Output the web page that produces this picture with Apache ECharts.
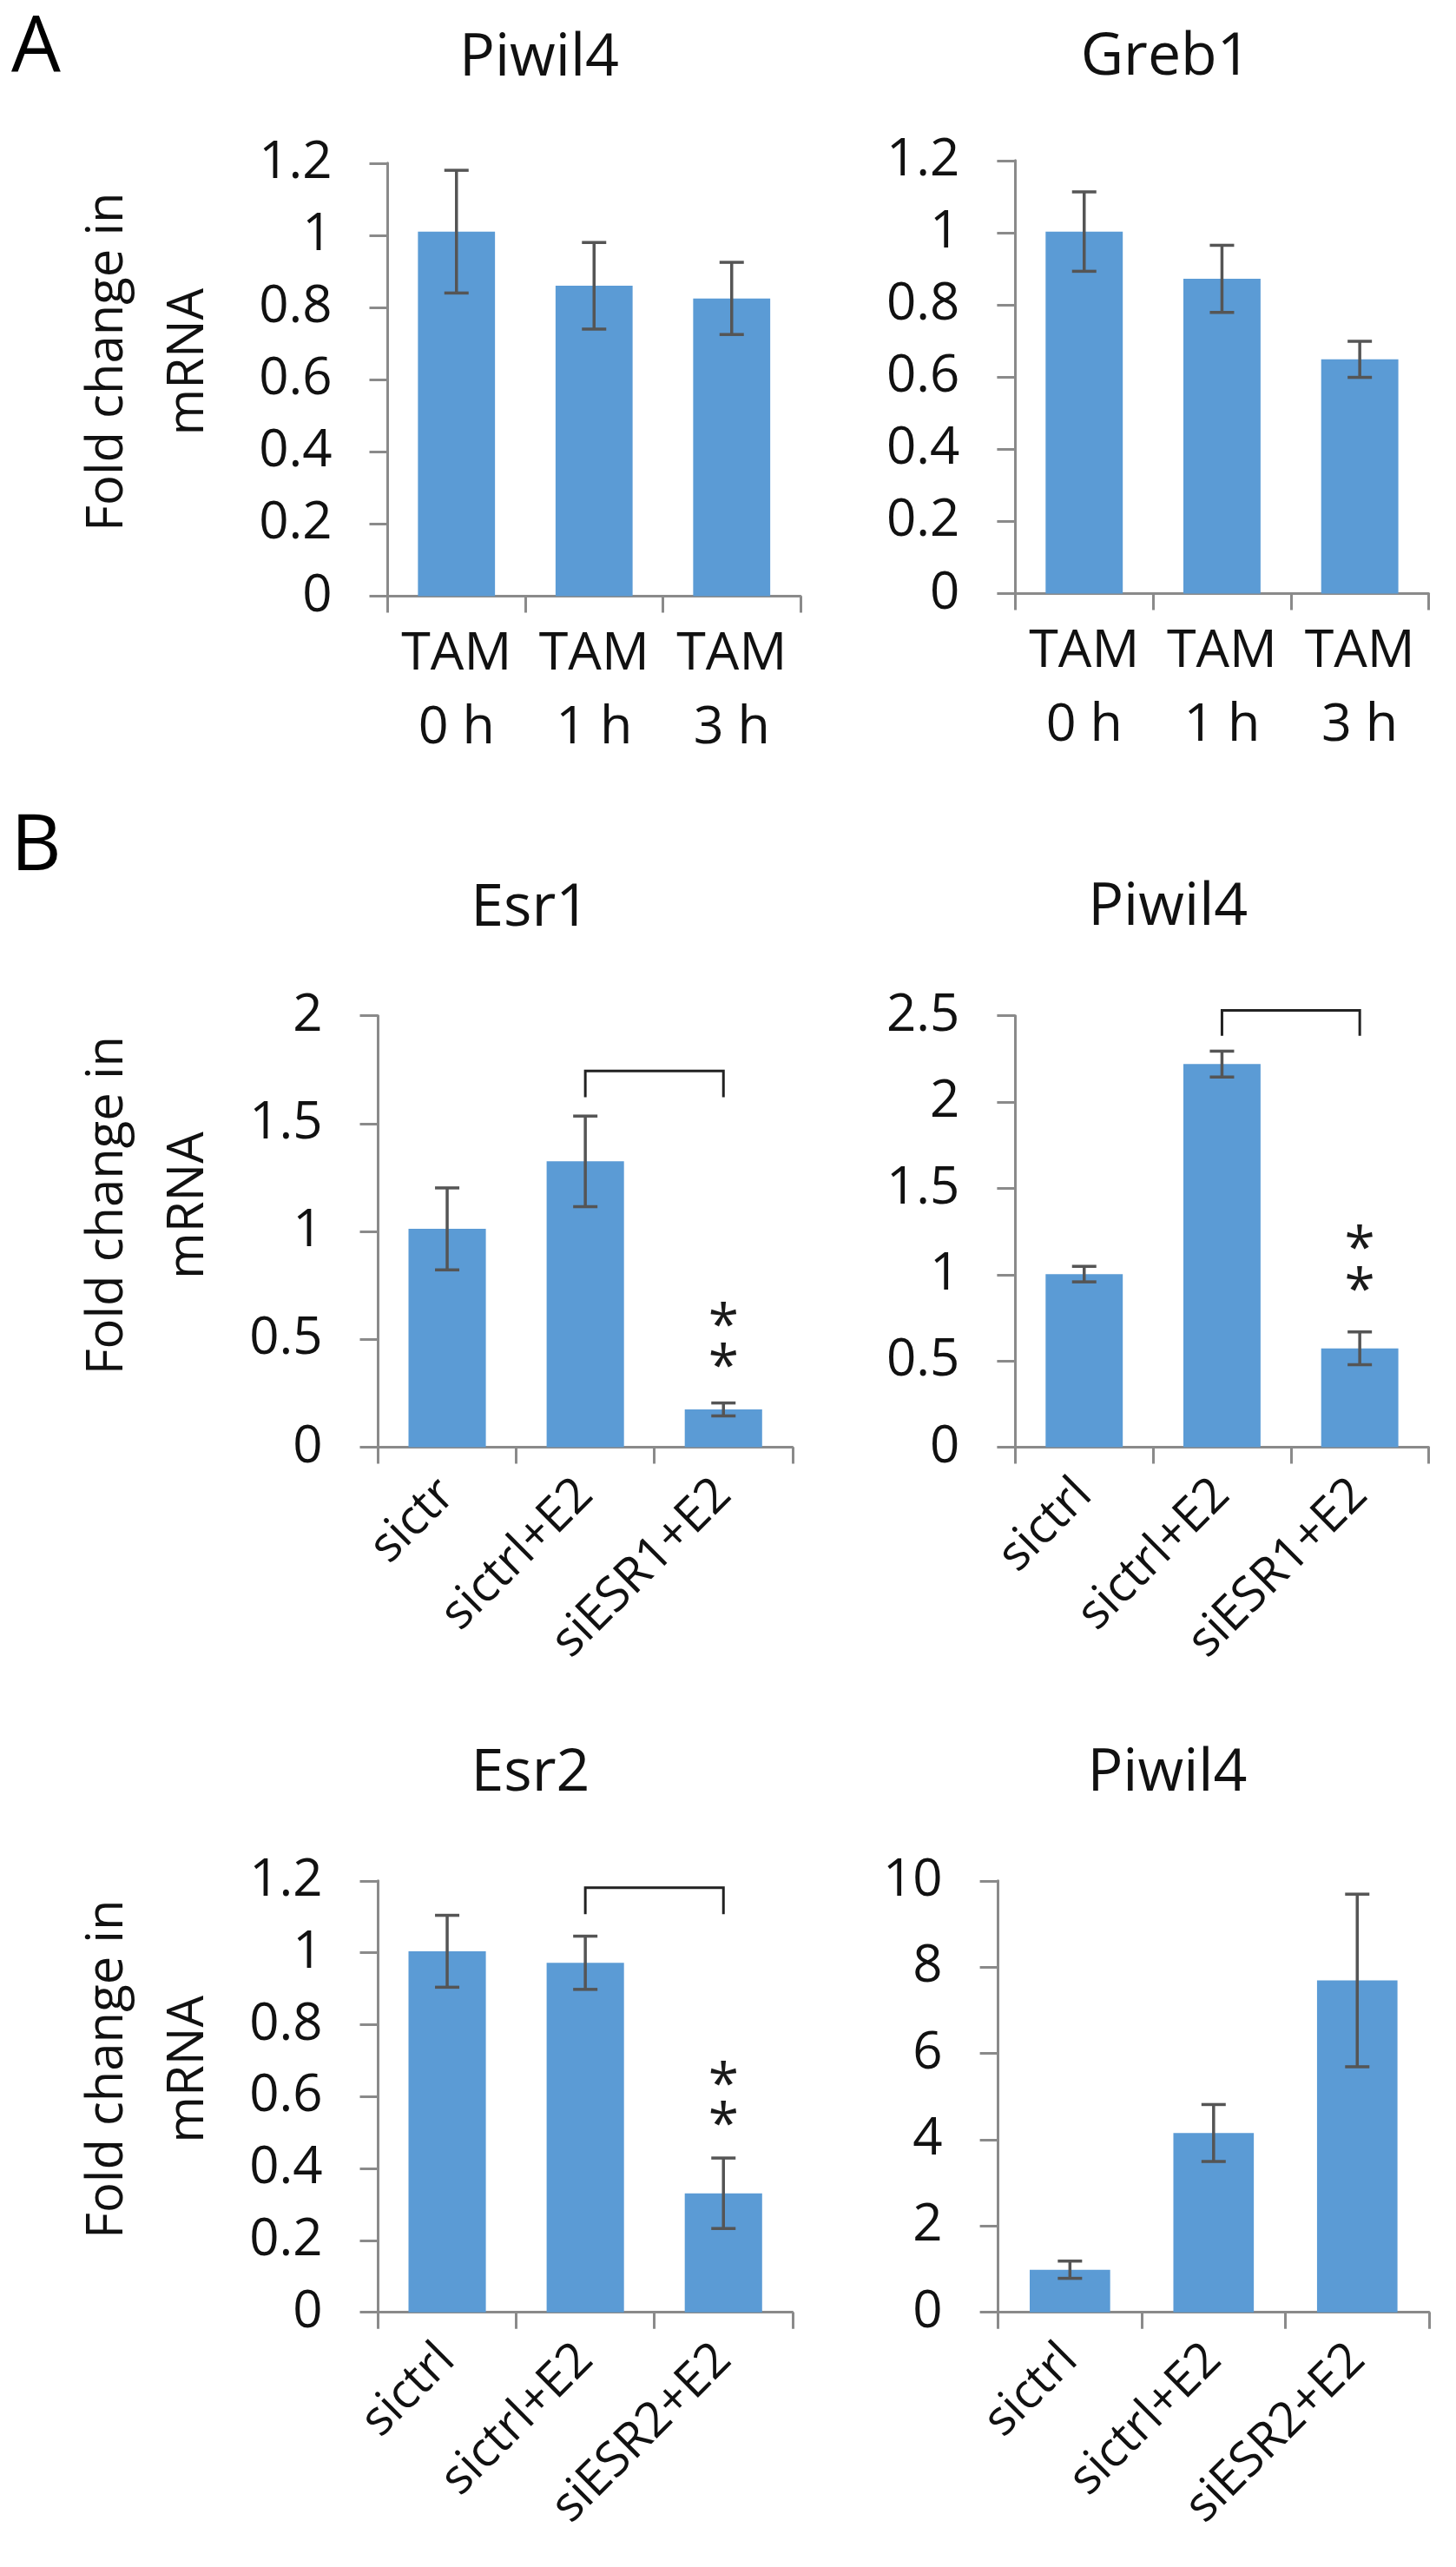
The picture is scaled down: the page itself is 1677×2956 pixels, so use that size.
<!DOCTYPE html>
<html>
<head>
<meta charset="utf-8">
<script src="https://cdn.jsdelivr.net/npm/echarts@6/dist/echarts.min.js"></script>
<style>
html,body{margin:0;padding:0;background:#fff;}
#chart{width:1677px;height:2956px;}
</style>
</head>
<body>
<div id="chart"></div>
<script>
// ---------- data ----------
const tamCats = ['TAM\n0 h', 'TAM\n1 h', 'TAM\n3 h'];
const esr1Cats = ['sictr', 'sictrl+E2', 'siESR1+E2'];
const piwilB1Cats = ['sictrl', 'sictrl+E2', 'siESR1+E2'];
const esr2Cats = ['sictrl', 'sictrl+E2', 'siESR2+E2'];
const piwilB2Cats = ['sictrl', 'sictrl+E2', 'siESR2+E2'];

const piwil4A = [1.01, 0.86, 0.825];
const piwil4AErr = [0.17, 0.12, 0.10];
const greb1A = [1.003, 0.872, 0.649];
const greb1AErr = [0.11, 0.093, 0.05];
const esr1B = [1.012, 1.325, 0.175];
const esr1BErr = [0.19, 0.21, 0.03];
const piwil4B1 = [1.003, 2.22, 0.573];
const piwil4B1Err = [0.045, 0.075, 0.095];
const esr2B = [1.004, 0.972, 0.331];
const esr2BErr = [0.10, 0.074, 0.098];
const piwil4B2 = [0.987, 4.155, 7.69];
const piwil4B2Err = [0.2, 0.66, 2.0];

const yMax = [1.2, 1.2, 2, 2.5, 1.2, 10];
const yStep = [0.2, 0.2, 0.5, 0.5, 0.2, 2];
const titles = ['Piwil4', 'Greb1', 'Esr1', 'Piwil4', 'Esr2', 'Piwil4'];
const yName = 'Fold change in\nmRNA';

// brackets: [grid, fromIdx, toIdx, topValue, endValue]
const brackets = [[2, 1, 2, 1.744, 1.622], [3, 1, 2, 2.531, 2.384], [4, 1, 2, 1.181, 1.107]];
// significance marks: [grid, catIdx, level]
const stars = [[2, 2, 0.606], [2, 2, 0.417], [3, 2, 1.204], [3, 2, 0.967], [4, 2, 0.658], [4, 2, 0.547]];

// ---------- layout ----------
const FONT = '"Open Sans", "Noto Sans", sans-serif';
const grids = [
  {left: 446.5, top: 187.8, width: 475.5, height: 498.7},
  {left: 1169.4, top: 184.8, width: 476.1, height: 498.7},
  {left: 435.5, top: 1169.7, width: 477.3, height: 496.8},
  {left: 1169.4, top: 1169.7, width: 476.1, height: 496.8},
  {left: 435.5, top: 2165.8, width: 477.3, height: 496.9},
  {left: 1149.6, top: 2165.8, width: 496.4, height: 496.9}
];
const titlePos = [[621, 68], [1342.6, 67], [610.7, 1047], [1345.2, 1046], [611, 2043], [1344.4, 2043]];
const namePad = [41, 0, 60, 0, 63, 0];
const nameGap = [276, 0, 265, 0, 265, 0];

const catsList = [tamCats, tamCats, esr1Cats, piwilB1Cats, esr2Cats, piwilB2Cats];
const valsList = [piwil4A, greb1A, esr1B, piwil4B1, esr2B, piwil4B2];
const errsList = [piwil4AErr, greb1AErr, esr1BErr, piwil4B1Err, esr2BErr, piwil4B2Err];

const AXIS = '#8a8a8a';
const BAR = '#5B9BD5';
const ERR = '#555555';

const xAxes = [], yAxes = [], series = [];
const titleArr = [];

for (let i = 0; i < 6; i++) {
  const isA = i < 2;
  xAxes.push({
    type: 'category', gridIndex: i, data: catsList[i],
    axisLine: {lineStyle: {color: AXIS, width: 3}},
    axisTick: {show: true, length: 19, lineStyle: {color: AXIS, width: 3}},
    axisLabel: isA ? {
      interval: 0, color: '#111', fontFamily: FONT, fontSize: 61, lineHeight: 85, margin: 25
    } : {
      interval: 0, rotate: 45, color: '#111', fontFamily: FONT, fontSize: 56, margin: 46
    }
  });
  const ya = {
    type: 'value', gridIndex: i, min: 0, max: yMax[i], interval: yStep[i],
    splitLine: {show: false},
    axisLine: {show: true, lineStyle: {color: AXIS, width: 3}},
    axisTick: {show: true, length: 21, lineStyle: {color: AXIS, width: 3}},
    axisLabel: {color: '#111', fontFamily: FONT, fontSize: 60, margin: 64}
  };
  if (i % 2 === 0) {
    ya.name = yName;
    ya.nameLocation = 'middle';
    ya.nameGap = nameGap[i];
    ya.nameRotate = 90;
    ya.nameTextStyle = {
      color: '#111', fontFamily: FONT, fontSize: 58, lineHeight: 93,
      align: 'center', verticalAlign: 'middle', padding: [0, 0, 0, namePad[i]]
    };
  }
  yAxes.push(ya);

  series.push({
    type: 'bar', xAxisIndex: i, yAxisIndex: i, data: valsList[i],
    barWidth: '56%', itemStyle: {color: BAR}, silent: true
  });
  series.push({
    type: 'custom', xAxisIndex: i, yAxisIndex: i, z: 5,
    data: valsList[i].map((v, k) => [k, v, errsList[i][k]]),
    renderItem: function (params, api) {
      const x = api.value(0), v = api.value(1), e = api.value(2);
      const hi = api.coord([x, v + e]);
      const lo = api.coord([x, v - e]);
      const h = 14;
      const st = {stroke: ERR, lineWidth: 3.5};
      return {type: 'group', children: [
        {type: 'line', shape: {x1: hi[0], y1: hi[1], x2: lo[0], y2: lo[1]}, style: st},
        {type: 'line', shape: {x1: hi[0] - h, y1: hi[1], x2: hi[0] + h, y2: hi[1]}, style: st},
        {type: 'line', shape: {x1: lo[0] - h, y1: lo[1], x2: lo[0] + h, y2: lo[1]}, style: st}
      ]};
    }
  });

  titleArr.push({
    text: titles[i], left: titlePos[i][0], top: titlePos[i][1], padding: 0,
    textAlign: 'center', textVerticalAlign: 'middle',
    textStyle: {fontFamily: FONT, fontSize: 68, fontWeight: 'normal', color: '#111'}
  });

  const br = brackets.filter(b => b[0] === i);
  if (br.length) {
    series.push({
      type: 'custom', xAxisIndex: i, yAxisIndex: i, z: 6, clip: false,
      data: br.map(b => [b[1], b[2], b[3], b[4]]),
      renderItem: function (params, api) {
        const a = api.value(0), b = api.value(1), top = api.value(2), end = api.value(3);
        const p1 = api.coord([a, end]), p2 = api.coord([a, top]);
        const p3 = api.coord([b, top]), p4 = api.coord([b, end]);
        return {type: 'polyline', shape: {points: [p1, p2, p3, p4]},
          style: {stroke: '#222', lineWidth: 3, fill: null}};
      }
    });
  }
  const st = stars.filter(s => s[0] === i);
  if (st.length) {
    series.push({
      type: 'custom', xAxisIndex: i, yAxisIndex: i, z: 6, clip: false,
      data: st.map(s => [s[1], s[2]]),
      renderItem: function (params, api) {
        const p = api.coord([api.value(0), api.value(1)]);
        return {type: 'text', x: p[0], y: p[1] + 14,
          style: {text: '*', fontFamily: FONT, fontSize: 64, fill: '#1a1a1a',
            align: 'center', verticalAlign: 'middle'}};
      }
    });
  }
}

titleArr.push({text: 'A', left: 41.5, top: 56, padding: 0, textAlign: 'center', textVerticalAlign: 'middle',
  textStyle: {fontFamily: FONT, fontSize: 90, fontWeight: 'normal', color: '#000'}});
titleArr.push({text: 'B', left: 41.5, top: 976, padding: 0, textAlign: 'center', textVerticalAlign: 'middle',
  textStyle: {fontFamily: FONT, fontSize: 90, fontWeight: 'normal', color: '#000'}});

const chart = echarts.init(document.getElementById('chart'), null, {renderer: 'canvas'});
chart.setOption({
  backgroundColor: '#ffffff',
  animation: false,
  title: titleArr,
  grid: grids,
  xAxis: xAxes,
  yAxis: yAxes,
  series: series
});
</script>
</body>
</html>
